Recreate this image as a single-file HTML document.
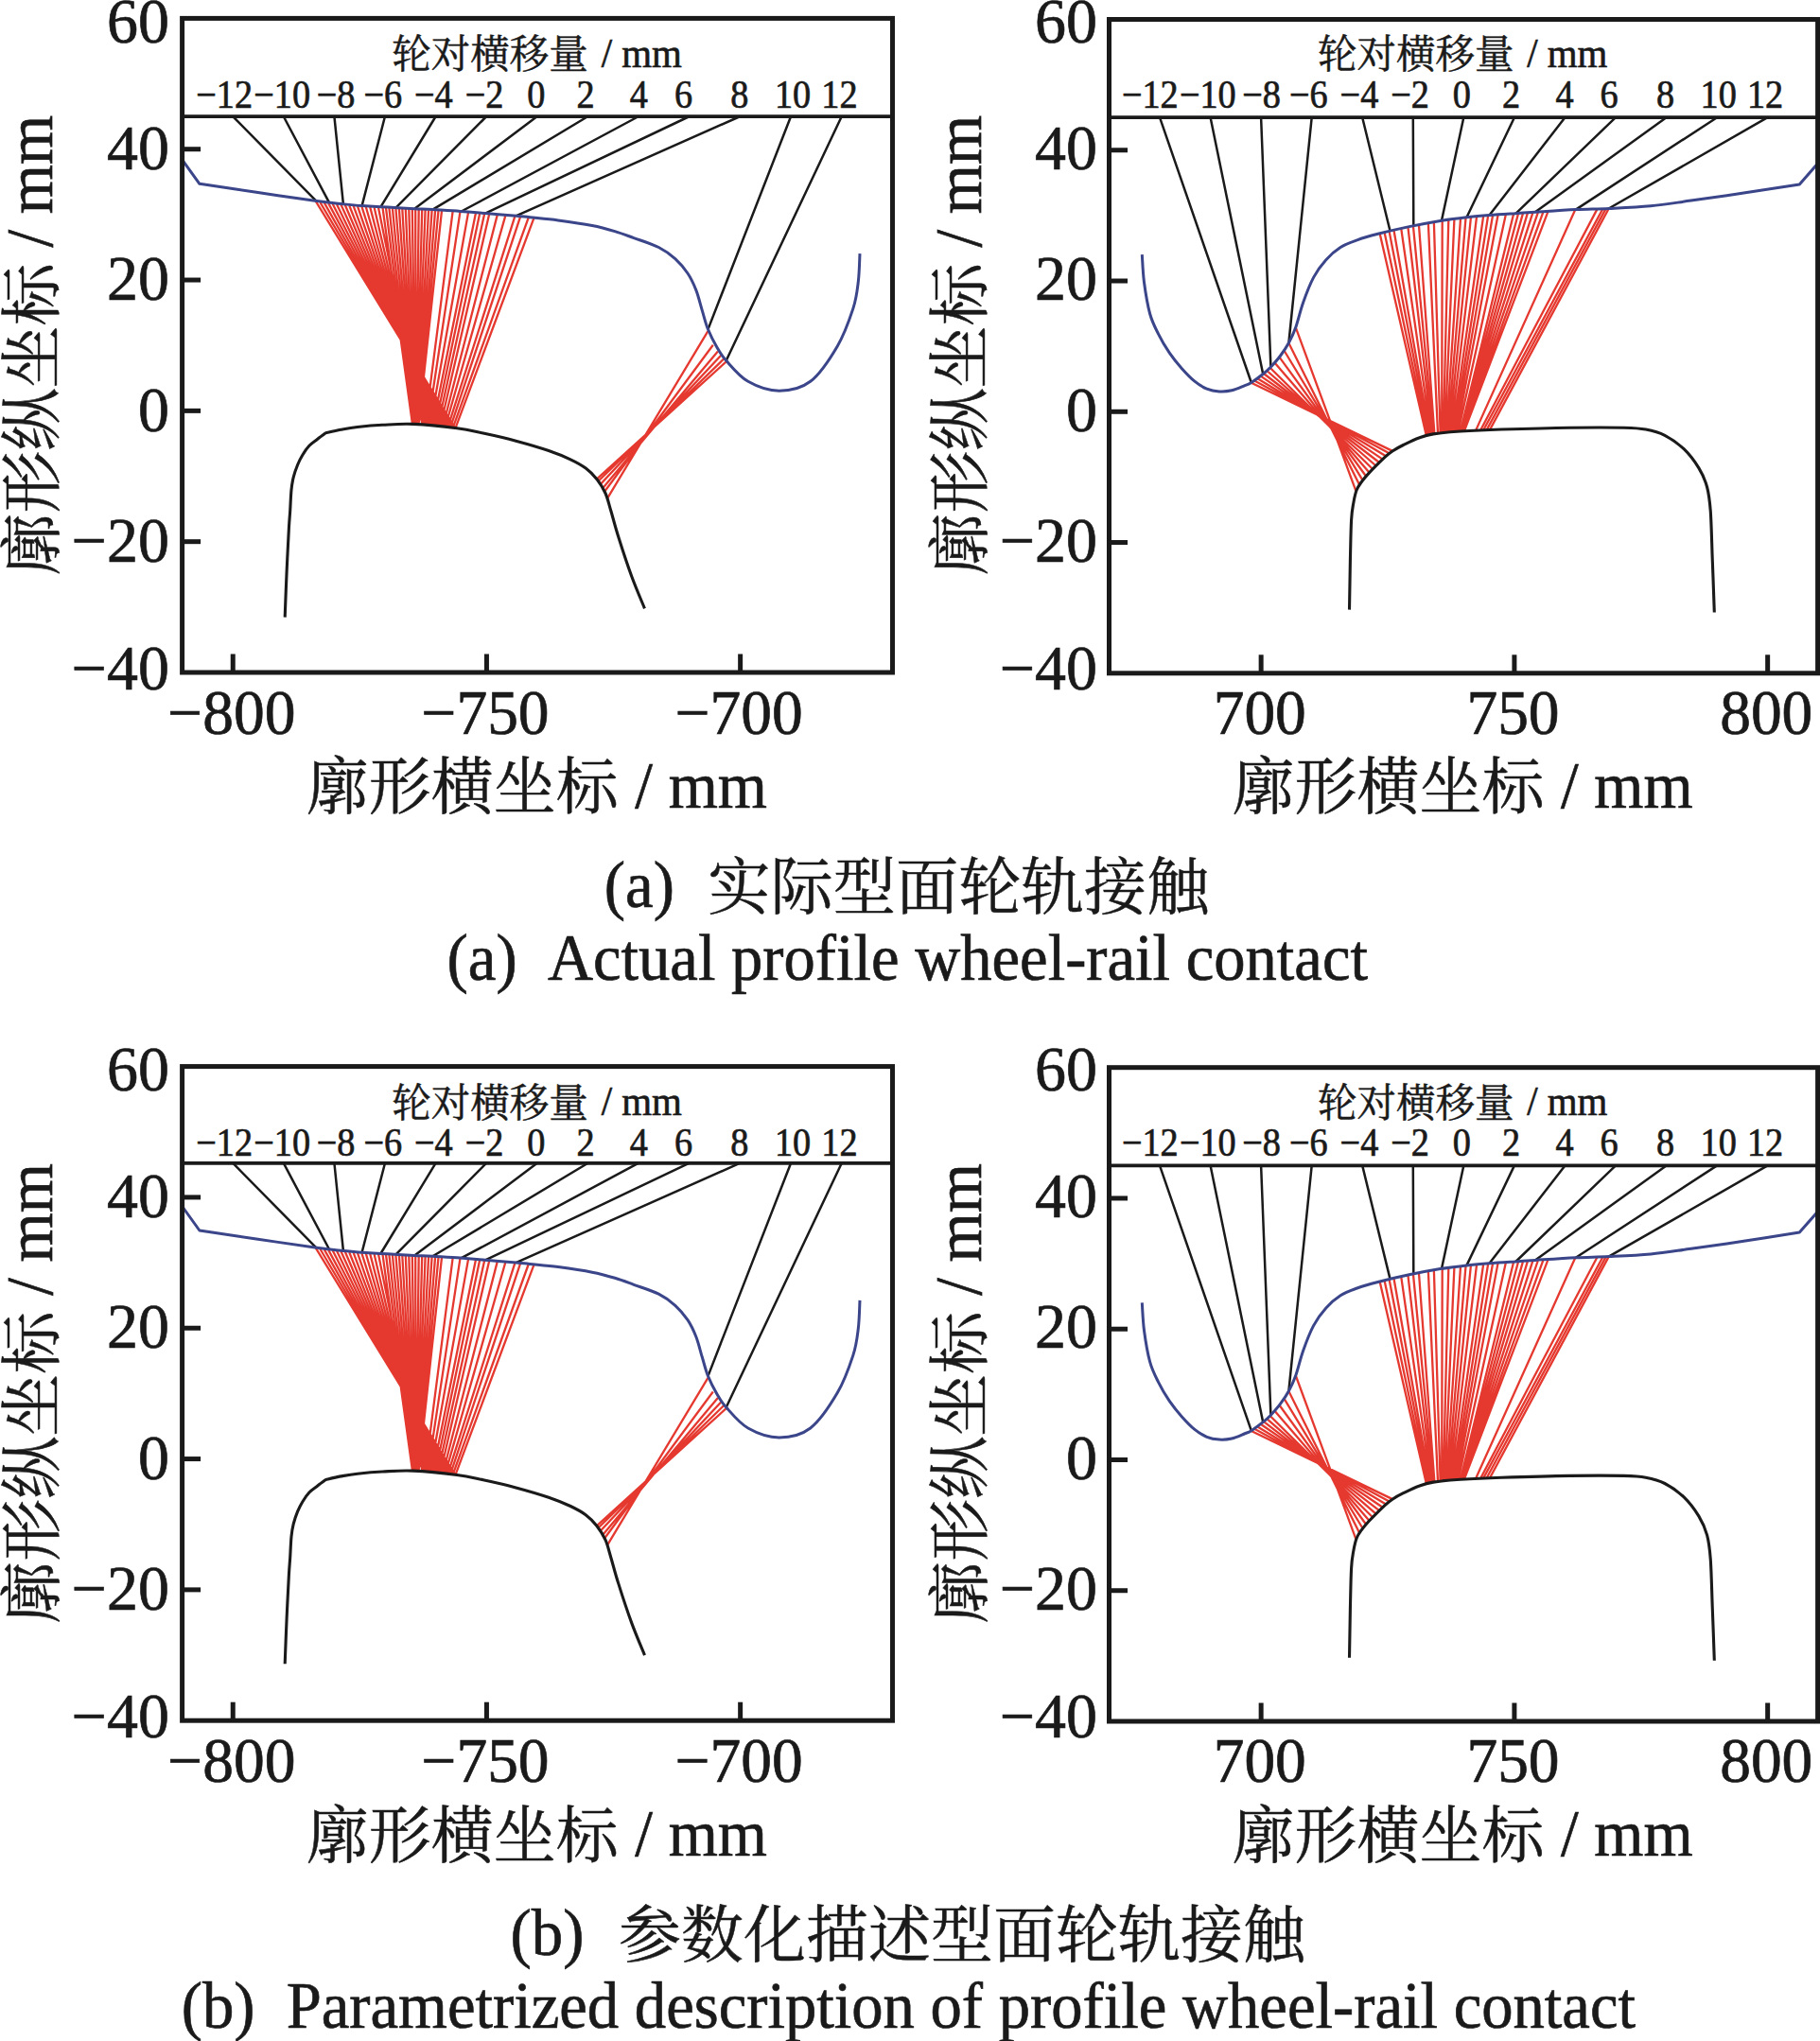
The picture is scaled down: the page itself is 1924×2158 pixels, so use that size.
<!DOCTYPE html>
<html lang="zh"><head><meta charset="utf-8"><title>wheel-rail contact</title>
<style>html,body{margin:0;padding:0;background:#fff}svg{display:block}text{font-family:'Liberation Serif', 'Noto Serif CJK SC', serif;fill:#1a1a1a}</style>
</head><body>
<svg width="1924" height="2158" viewBox="0 0 1924 2158">
<rect width="1924" height="2158" fill="#fff"/>
<g>
<g transform="translate(0,0)" fill="none" stroke-linecap="butt">
<path d="M334.0,213.2L481.0,452.5 M338.4,213.8L478.7,452.2 M342.8,214.4L476.4,452.0 M347.2,214.9L474.1,451.7 M351.6,215.4L471.8,451.4 M356.0,215.9L469.5,451.2 M360.4,216.3L467.2,450.9 M364.8,216.8L464.9,450.7 M369.2,217.3L462.6,450.4 M373.6,217.7L460.3,450.2 M378.0,218.1L458.0,450.0 M382.4,218.4L455.7,449.8 M386.8,218.7L453.4,449.6 M391.2,218.9L451.1,449.4 M395.6,219.2L448.8,449.2 M400.0,219.4L446.5,449.0 M404.5,219.6L436.0,448.4 M408.0,219.8L436.4,448.4 M411.4,220.0L436.7,448.4 M414.9,220.2L437.1,448.4 M418.4,220.4L437.4,448.4 M421.9,220.6L437.8,448.4 M425.3,220.8L438.2,448.5 M428.8,221.0L438.5,448.5 M432.3,221.2L438.9,448.5 M435.8,221.4L439.2,448.5 M439.2,221.6L439.6,448.5 M442.7,221.7L440.0,448.6 M446.2,221.9L440.3,448.6 M449.6,222.0L440.7,448.6 M453.1,222.2L441.1,448.6 M456.6,222.4L441.4,448.6 M460.1,222.5L441.8,448.7 M463.5,222.7L442.1,448.7 M467.0,222.9L442.5,448.7 M478.6,223.7L449.5,449.2 M486.4,224.2L452.2,449.5 M495.0,224.9L454.8,449.7 M502.9,225.5L457.5,449.9 M507.1,225.9L460.2,450.2 M512.1,226.3L462.8,450.5 M517.1,226.7L465.5,450.7 M525.7,227.4L468.2,451.0 M534.3,228.1L470.8,451.3 M544.3,228.9L473.5,451.6 M550.0,229.4L476.2,451.9 M558.6,230.3L478.8,452.3 M564.3,230.9L481.5,452.6 M748.4,350.1L642.4,526.4 M753.8,364.8L639.1,519.8 M758.9,371.4L636.9,516.5 M762.2,375.8L634.7,512.1 M765.5,379.1L632.5,508.8 M767.7,382.4L630.8,506.6" stroke="#e5382f" stroke-width="2.3"/>
<path d="M246.1,123.0L334.9,213.2 M299.7,123.0L348.1,214.3 M353.4,123.0L362.9,215.8 M407.0,123.0L382.6,217.6 M460.7,123.0L402.4,218.8 M514.3,123.0L418.5,219.7 M567.9,123.0L438.2,220.7 M621.6,123.0L457.4,221.6 M675.2,123.0L487.7,223.5 M728.9,123.0L513.0,225.6 M782.5,123.0L545.9,228.2 M836.1,123.0L748.4,348.4 M889.8,123.0L767.7,381.3" stroke="#1a1a1a" stroke-width="2.5"/>
<path d="M192.6,168.8 L210.9,194.3 L210.9,194.3C220.9,195.8 250.7,200.3 271.0,203.3C291.3,206.3 317.6,210.2 332.9,212.3C348.2,214.4 354.6,214.9 362.9,215.8C371.2,216.7 374.8,217.1 382.6,217.6C390.4,218.1 400.5,218.6 409.8,219.1C419.1,219.6 430.3,220.3 438.2,220.7C446.1,221.1 449.3,221.1 457.4,221.6C465.5,222.1 477.4,222.7 486.7,223.4C496.0,224.1 503.1,224.8 513.0,225.6C522.9,226.4 538.1,227.5 545.9,228.2C553.7,228.9 552.6,228.9 560.0,229.7C567.4,230.5 579.0,231.4 590.0,232.9C601.0,234.4 616.0,236.6 626.0,238.5C636.0,240.4 642.7,242.4 650.0,244.6C657.3,246.8 662.3,248.8 670.0,251.6C677.7,254.4 689.0,257.8 696.3,261.5C703.6,265.2 708.7,269.0 713.8,273.6C718.9,278.2 723.3,283.5 727.0,289.0C730.7,294.5 733.2,300.0 735.8,306.6C738.4,313.2 740.3,321.7 742.4,328.6C744.5,335.5 745.8,341.6 748.4,348.0C751.0,354.4 754.6,361.4 757.8,367.0C761.0,372.6 762.2,375.2 767.7,381.3C773.2,387.4 781.5,398.0 790.8,403.3C800.1,408.6 812.7,413.2 823.7,413.2C834.7,413.2 846.4,411.2 856.7,403.3C867.0,395.4 877.8,378.7 885.3,365.9C892.8,353.1 898.1,337.7 901.8,326.4C905.5,315.1 906.1,307.7 907.3,298.0C908.5,288.3 908.7,273.1 909.0,268.1" stroke="#3b4589" stroke-width="3.0" stroke-linejoin="round"/>
<path d="M301.2,652.6C301.5,644.6 302.4,620.3 303.1,604.6C303.8,588.9 304.8,569.3 305.4,558.5C306.0,547.7 306.3,546.8 306.7,540.0C307.1,533.2 307.4,523.8 308.0,517.9C308.6,512.0 309.1,509.1 310.2,504.7C311.3,500.3 313.0,495.4 314.6,491.5C316.2,487.6 317.8,484.4 319.9,481.0C321.9,477.6 324.3,474.1 326.9,471.3C329.5,468.5 332.8,466.6 335.7,464.3C338.6,462.0 343.0,458.8 344.5,457.7L344.5,457.7C347.1,457.1 354.7,455.2 360.3,454.2C365.9,453.2 370.6,452.3 377.9,451.5C385.2,450.7 394.5,449.8 404.3,449.3C414.1,448.8 423.8,447.8 436.9,448.4C450.0,449.0 470.8,451.2 483.1,452.8C495.4,454.4 500.4,455.9 510.8,458.1C521.2,460.3 533.9,463.1 545.4,466.2C556.9,469.3 570.4,473.2 580.0,476.5C589.6,479.8 596.6,482.7 603.1,485.8C609.6,488.9 614.6,491.6 619.2,495.0C623.8,498.4 627.3,502.1 630.8,506.5C634.3,510.9 637.5,515.9 640.0,521.5C642.5,527.1 643.5,532.3 645.8,540.0C648.1,547.7 650.1,556.2 653.8,567.7C657.4,579.2 663.1,596.6 667.7,609.2C672.3,621.8 679.2,637.7 681.5,643.4" stroke="#1a1a1a" stroke-width="3.1" stroke-linejoin="round"/>
</g>
<rect x="192.60" y="19.40" width="750.90" height="691.60" fill="none" stroke="#1a1a1a" stroke-width="5"/>
<line x1="192.60" y1="123.14" x2="943.50" y2="123.14" stroke="#1a1a1a" stroke-width="3.8"/>
<line x1="192.60" y1="157.72" x2="212.10" y2="157.72" stroke="#1a1a1a" stroke-width="5"/>
<line x1="192.60" y1="296.04" x2="212.10" y2="296.04" stroke="#1a1a1a" stroke-width="5"/>
<line x1="192.60" y1="434.36" x2="212.10" y2="434.36" stroke="#1a1a1a" stroke-width="5"/>
<line x1="192.60" y1="572.68" x2="212.10" y2="572.68" stroke="#1a1a1a" stroke-width="5"/>
<text transform="translate(179.00,45.20) scale(0.985,1)" font-size="67.0" text-anchor="end" stroke="#1a1a1a" stroke-width="0.7" >60</text>
<text transform="translate(179.00,178.92) scale(0.985,1)" font-size="67.0" text-anchor="end" stroke="#1a1a1a" stroke-width="0.7" >40</text>
<text transform="translate(179.00,317.24) scale(0.985,1)" font-size="67.0" text-anchor="end" stroke="#1a1a1a" stroke-width="0.7" >20</text>
<text transform="translate(179.00,455.56) scale(0.985,1)" font-size="67.0" text-anchor="end" stroke="#1a1a1a" stroke-width="0.7" >0</text>
<text transform="translate(179.00,593.88) scale(0.985,1)" font-size="67.0" text-anchor="end" stroke="#1a1a1a" stroke-width="0.7" >−20</text>
<text transform="translate(179.00,728.90) scale(0.985,1)" font-size="67.0" text-anchor="end" stroke="#1a1a1a" stroke-width="0.7" >−40</text>
<line x1="246.24" y1="711.00" x2="246.24" y2="691.50" stroke="#1a1a1a" stroke-width="5"/>
<text transform="translate(244.84,776.00) scale(0.977,1)" font-size="67.0" text-anchor="middle" stroke="#1a1a1a" stroke-width="0.7" >−800</text>
<line x1="514.44" y1="711.00" x2="514.44" y2="691.50" stroke="#1a1a1a" stroke-width="5"/>
<text transform="translate(513.04,776.00) scale(0.977,1)" font-size="67.0" text-anchor="middle" stroke="#1a1a1a" stroke-width="0.7" >−750</text>
<line x1="782.64" y1="711.00" x2="782.64" y2="691.50" stroke="#1a1a1a" stroke-width="5"/>
<text transform="translate(781.24,776.00) scale(0.977,1)" font-size="67.0" text-anchor="middle" stroke="#1a1a1a" stroke-width="0.7" >−700</text>
<text transform="translate(323.80,855.30) scale(1.0,1)" font-size="66" text-anchor="start" stroke="#1a1a1a" stroke-width="0.5" >廓形横坐标</text>
<text transform="translate(811.00,853.50) scale(0.958,1)" font-size="70" text-anchor="end" stroke="#1a1a1a" stroke-width="0.7" xml:space="preserve" > / mm</text>
<text transform="translate(56.80,608.50) rotate(-90) scale(1.0,1)" font-size="66" text-anchor="start" stroke="#1a1a1a" stroke-width="0.5" >廓形纵坐标</text>
<text transform="translate(55.40,121.90) rotate(-90) scale(0.958,1)" font-size="70" text-anchor="end" stroke="#1a1a1a" stroke-width="0.7" xml:space="preserve" > / mm</text>
<text transform="translate(414.30,72.30) scale(1.0,1)" font-size="41.5" text-anchor="start" stroke="#1a1a1a" stroke-width="0.5" >轮对横移量</text>
<text transform="translate(720.80,71.00) scale(0.94,1)" font-size="43.5" text-anchor="end" stroke="#1a1a1a" stroke-width="0.7" xml:space="preserve" > / mm</text>
<text transform="translate(207.30,113.70) scale(0.915,1)" font-size="41.8" text-anchor="start" stroke="#1a1a1a" stroke-width="0.7" xml:space="preserve" >−12</text>
<text transform="translate(268.30,113.70) scale(0.915,1)" font-size="41.8" text-anchor="start" stroke="#1a1a1a" stroke-width="0.7" xml:space="preserve" >−10</text>
<text transform="translate(334.70,113.70) scale(0.915,1)" font-size="41.8" text-anchor="start" stroke="#1a1a1a" stroke-width="0.7" xml:space="preserve" >−8</text>
<text transform="translate(384.40,113.70) scale(0.915,1)" font-size="41.8" text-anchor="start" stroke="#1a1a1a" stroke-width="0.7" xml:space="preserve" >−6</text>
<text transform="translate(438.00,113.70) scale(0.915,1)" font-size="41.8" text-anchor="start" stroke="#1a1a1a" stroke-width="0.7" xml:space="preserve" >−4</text>
<text transform="translate(491.70,113.70) scale(0.915,1)" font-size="41.8" text-anchor="start" stroke="#1a1a1a" stroke-width="0.7" xml:space="preserve" >−2</text>
<text transform="translate(557.20,113.70) scale(0.915,1)" font-size="41.8" text-anchor="start" stroke="#1a1a1a" stroke-width="0.7" xml:space="preserve" >0</text>
<text transform="translate(609.40,113.70) scale(0.915,1)" font-size="41.8" text-anchor="start" stroke="#1a1a1a" stroke-width="0.7" xml:space="preserve" >2</text>
<text transform="translate(665.80,113.70) scale(0.915,1)" font-size="41.8" text-anchor="start" stroke="#1a1a1a" stroke-width="0.7" xml:space="preserve" >4</text>
<text transform="translate(713.00,113.70) scale(0.915,1)" font-size="41.8" text-anchor="start" stroke="#1a1a1a" stroke-width="0.7" xml:space="preserve" >6</text>
<text transform="translate(772.30,113.70) scale(0.915,1)" font-size="41.8" text-anchor="start" stroke="#1a1a1a" stroke-width="0.7" xml:space="preserve" >8</text>
<text transform="translate(819.00,113.70) scale(0.915,1)" font-size="41.8" text-anchor="start" stroke="#1a1a1a" stroke-width="0.7" xml:space="preserve" >10</text>
<text transform="translate(868.30,113.70) scale(0.915,1)" font-size="41.8" text-anchor="start" stroke="#1a1a1a" stroke-width="0.7" xml:space="preserve" >12</text>
</g>
<g>
<g transform="translate(0,0)" fill="none" stroke-linecap="butt">
<path d="M1458.8,247.6L1507.8,460.4 M1463.7,246.3L1509.0,460.1 M1468.7,245.1L1510.3,459.8 M1473.6,244.0L1511.5,459.6 M1481.3,242.2L1512.7,459.3 M1488.5,240.7L1513.9,459.1 M1494.0,239.5L1515.2,458.9 M1500.0,238.3L1516.4,458.7 M1509.9,236.4L1520.0,458.2 M1515.9,235.3L1522.6,457.9 M1524.7,233.9L1524.2,457.7 M1531.3,232.9L1525.8,457.5 M1537.4,232.1L1527.4,457.4 M1544.0,231.2L1529.0,457.2 M1549.5,230.6L1530.6,457.1 M1554.9,230.0L1532.2,456.9 M1561.0,229.4L1533.8,456.8 M1568.1,228.8L1535.4,456.6 M1573.1,228.4L1537.0,456.5 M1578.0,228.0L1538.5,456.4 M1583.5,227.7L1540.0,456.3 M1591.8,227.1L1541.6,456.2 M1600.0,226.6L1543.9,456.0 M1604.9,226.3L1544.5,456.0 M1609.9,225.9L1545.1,455.9 M1614.8,225.6L1545.7,455.9 M1620.3,225.2L1546.2,455.9 M1625.8,224.8L1546.8,455.8 M1631.3,224.4L1547.4,455.8 M1636.3,224.1L1548.0,455.7 M1665.0,222.3L1560.1,455.1 M1688.2,221.6L1565.2,454.8 M1694.0,221.5L1568.2,454.7 M1697.2,221.4L1571.6,454.6 M1700.3,221.2L1575.0,454.4 M1322.8,404.8L1472.1,476.9 M1326.1,402.6L1468.6,479.3 M1329.4,400.3L1465.1,482.3 M1332.7,397.6L1461.6,485.6 M1336.0,395.0L1458.1,489.0 M1339.3,392.0L1454.6,492.5 M1342.6,388.8L1451.1,496.0 M1347.5,383.5L1447.6,499.7 M1352.5,377.6L1444.1,503.5 M1357.4,370.5L1440.6,507.8 M1362.4,362.8L1437.1,512.6 M1369.8,346.3L1433.6,519.7" stroke="#e5382f" stroke-width="2.3"/>
<path d="M1226.0,124.2L1322.8,404.5 M1279.6,124.2L1335.2,395.5 M1333.1,124.2L1343.4,388.0 M1386.7,124.2L1362.4,362.5 M1440.2,124.2L1469.3,243.2 M1493.8,124.2L1494.3,238.2 M1547.3,124.2L1524.0,233.2 M1600.9,124.2L1550.5,229.7 M1654.4,124.2L1574.5,227.5 M1708.0,124.2L1602.3,225.8 M1761.5,124.2L1622.9,224.3 M1815.1,124.2L1665.8,221.6 M1868.6,124.2L1700.6,220.5" stroke="#1a1a1a" stroke-width="2.5"/>
<path d="M1207.3,269.2C1207.7,274.1 1208.1,288.0 1209.5,298.5C1210.9,309.0 1213.2,322.9 1215.7,332.0C1218.2,341.1 1221.3,346.5 1224.7,353.4C1228.1,360.3 1232.2,367.1 1236.3,373.2C1240.4,379.2 1245.0,384.8 1249.4,389.7C1253.8,394.6 1258.2,399.3 1262.6,402.9C1267.0,406.5 1271.4,409.3 1275.8,411.1C1280.2,412.9 1284.6,413.6 1289.0,413.9C1293.4,414.2 1297.8,413.8 1302.2,412.8C1306.6,411.8 1312.0,409.2 1315.4,407.8C1318.8,406.4 1319.5,406.6 1322.8,404.5C1326.1,402.4 1331.8,398.2 1335.2,395.5C1338.6,392.8 1340.4,391.2 1343.4,388.0C1346.4,384.8 1350.1,380.8 1353.3,376.5C1356.5,372.2 1359.7,367.6 1362.4,362.5C1365.2,357.4 1367.3,353.1 1369.8,346.0C1372.3,338.9 1374.5,328.8 1377.6,320.0C1380.7,311.2 1384.6,300.9 1388.6,293.4C1392.6,285.8 1397.0,280.0 1401.8,274.7C1406.5,269.4 1411.6,265.0 1417.1,261.5C1422.6,258.0 1428.1,256.2 1434.7,253.8C1441.3,251.4 1447.5,249.7 1456.7,247.3C1465.9,244.9 1478.7,241.9 1489.7,239.6C1500.7,237.3 1512.5,235.1 1522.6,233.4C1532.7,231.8 1541.8,230.7 1550.4,229.7C1559.1,228.7 1565.9,228.2 1574.5,227.5C1583.1,226.8 1593.9,226.2 1602.0,225.7C1610.1,225.1 1612.3,224.9 1622.9,224.2C1633.5,223.5 1652.8,222.1 1665.8,221.5C1678.8,220.9 1687.7,221.0 1700.9,220.4C1714.1,219.8 1730.5,219.2 1745.0,217.8C1759.5,216.4 1771.0,214.4 1787.7,212.1C1804.4,209.8 1825.9,206.7 1845.0,203.8C1864.1,200.9 1892.8,196.4 1902.3,194.9 L1924.5,169.6" stroke="#3b4589" stroke-width="3.0" stroke-linejoin="round"/>
<path d="M1426.5,644.6C1426.7,636.0 1427.1,608.6 1427.4,592.8C1427.8,577.0 1428.0,559.8 1428.6,549.6C1429.2,539.5 1429.9,537.1 1430.8,531.9C1431.7,526.7 1432.7,521.9 1434.1,518.3C1435.5,514.6 1436.8,513.0 1439.0,510.0C1441.2,507.0 1443.1,504.5 1447.2,500.1C1451.3,495.7 1459.6,487.5 1463.7,483.6C1467.8,479.8 1468.7,479.2 1472.0,477.0C1475.3,474.8 1478.8,472.8 1483.5,470.5C1488.2,468.2 1494.7,464.9 1500.0,463.0C1505.3,461.1 1507.9,460.1 1515.2,458.9C1522.5,457.7 1532.0,456.8 1544.0,456.0C1556.0,455.2 1568.0,454.6 1587.2,454.0C1606.4,453.4 1637.5,452.5 1659.1,452.2C1680.7,451.9 1703.2,451.9 1716.7,452.2C1730.2,452.5 1732.6,452.6 1739.8,454.0C1747.0,455.4 1753.2,456.9 1759.9,460.3C1766.6,463.8 1774.1,468.9 1780.1,474.7C1786.1,480.5 1791.8,488.2 1795.9,494.9C1800.0,501.6 1802.5,507.3 1804.6,515.0C1806.7,522.7 1807.3,527.9 1808.3,540.9C1809.2,553.9 1809.6,575.0 1810.3,592.8C1811.0,610.6 1812.0,638.4 1812.3,647.5" stroke="#1a1a1a" stroke-width="3.1" stroke-linejoin="round"/>
</g>
<rect x="1172.50" y="20.50" width="749.10" height="691.30" fill="none" stroke="#1a1a1a" stroke-width="5"/>
<line x1="1172.50" y1="124.19" x2="1921.60" y2="124.19" stroke="#1a1a1a" stroke-width="3.8"/>
<line x1="1172.50" y1="158.76" x2="1192.00" y2="158.76" stroke="#1a1a1a" stroke-width="5"/>
<line x1="1172.50" y1="297.02" x2="1192.00" y2="297.02" stroke="#1a1a1a" stroke-width="5"/>
<line x1="1172.50" y1="435.28" x2="1192.00" y2="435.28" stroke="#1a1a1a" stroke-width="5"/>
<line x1="1172.50" y1="573.54" x2="1192.00" y2="573.54" stroke="#1a1a1a" stroke-width="5"/>
<text transform="translate(1160.10,45.20) scale(0.985,1)" font-size="67.0" text-anchor="end" stroke="#1a1a1a" stroke-width="0.7" >60</text>
<text transform="translate(1160.10,178.92) scale(0.985,1)" font-size="67.0" text-anchor="end" stroke="#1a1a1a" stroke-width="0.7" >40</text>
<text transform="translate(1160.10,317.24) scale(0.985,1)" font-size="67.0" text-anchor="end" stroke="#1a1a1a" stroke-width="0.7" >20</text>
<text transform="translate(1160.10,455.56) scale(0.985,1)" font-size="67.0" text-anchor="end" stroke="#1a1a1a" stroke-width="0.7" >0</text>
<text transform="translate(1160.10,593.88) scale(0.985,1)" font-size="67.0" text-anchor="end" stroke="#1a1a1a" stroke-width="0.7" >−20</text>
<text transform="translate(1160.10,728.90) scale(0.985,1)" font-size="67.0" text-anchor="end" stroke="#1a1a1a" stroke-width="0.7" >−40</text>
<line x1="1333.15" y1="711.80" x2="1333.15" y2="692.30" stroke="#1a1a1a" stroke-width="5"/>
<text transform="translate(1331.75,776.00) scale(0.977,1)" font-size="67.0" text-anchor="middle" stroke="#1a1a1a" stroke-width="0.7" >700</text>
<line x1="1600.90" y1="711.80" x2="1600.90" y2="692.30" stroke="#1a1a1a" stroke-width="5"/>
<text transform="translate(1599.50,776.00) scale(0.977,1)" font-size="67.0" text-anchor="middle" stroke="#1a1a1a" stroke-width="0.7" >750</text>
<line x1="1868.65" y1="711.80" x2="1868.65" y2="692.30" stroke="#1a1a1a" stroke-width="5"/>
<text transform="translate(1867.25,776.00) scale(0.977,1)" font-size="67.0" text-anchor="middle" stroke="#1a1a1a" stroke-width="0.7" >800</text>
<text transform="translate(1302.40,855.30) scale(1.0,1)" font-size="66" text-anchor="start" stroke="#1a1a1a" stroke-width="0.5" >廓形横坐标</text>
<text transform="translate(1789.60,853.50) scale(0.958,1)" font-size="70" text-anchor="end" stroke="#1a1a1a" stroke-width="0.7" xml:space="preserve" > / mm</text>
<text transform="translate(1038.20,608.50) rotate(-90) scale(1.0,1)" font-size="66" text-anchor="start" stroke="#1a1a1a" stroke-width="0.5" >廓形纵坐标</text>
<text transform="translate(1036.80,121.90) rotate(-90) scale(0.958,1)" font-size="70" text-anchor="end" stroke="#1a1a1a" stroke-width="0.7" xml:space="preserve" > / mm</text>
<text transform="translate(1392.90,72.30) scale(1.0,1)" font-size="41.5" text-anchor="start" stroke="#1a1a1a" stroke-width="0.5" >轮对横移量</text>
<text transform="translate(1699.40,71.00) scale(0.94,1)" font-size="43.5" text-anchor="end" stroke="#1a1a1a" stroke-width="0.7" xml:space="preserve" > / mm</text>
<text transform="translate(1185.90,113.70) scale(0.915,1)" font-size="41.8" text-anchor="start" stroke="#1a1a1a" stroke-width="0.7" xml:space="preserve" >−12</text>
<text transform="translate(1246.90,113.70) scale(0.915,1)" font-size="41.8" text-anchor="start" stroke="#1a1a1a" stroke-width="0.7" xml:space="preserve" >−10</text>
<text transform="translate(1313.30,113.70) scale(0.915,1)" font-size="41.8" text-anchor="start" stroke="#1a1a1a" stroke-width="0.7" xml:space="preserve" >−8</text>
<text transform="translate(1363.00,113.70) scale(0.915,1)" font-size="41.8" text-anchor="start" stroke="#1a1a1a" stroke-width="0.7" xml:space="preserve" >−6</text>
<text transform="translate(1416.60,113.70) scale(0.915,1)" font-size="41.8" text-anchor="start" stroke="#1a1a1a" stroke-width="0.7" xml:space="preserve" >−4</text>
<text transform="translate(1470.30,113.70) scale(0.915,1)" font-size="41.8" text-anchor="start" stroke="#1a1a1a" stroke-width="0.7" xml:space="preserve" >−2</text>
<text transform="translate(1535.80,113.70) scale(0.915,1)" font-size="41.8" text-anchor="start" stroke="#1a1a1a" stroke-width="0.7" xml:space="preserve" >0</text>
<text transform="translate(1588.00,113.70) scale(0.915,1)" font-size="41.8" text-anchor="start" stroke="#1a1a1a" stroke-width="0.7" xml:space="preserve" >2</text>
<text transform="translate(1644.40,113.70) scale(0.915,1)" font-size="41.8" text-anchor="start" stroke="#1a1a1a" stroke-width="0.7" xml:space="preserve" >4</text>
<text transform="translate(1691.60,113.70) scale(0.915,1)" font-size="41.8" text-anchor="start" stroke="#1a1a1a" stroke-width="0.7" xml:space="preserve" >6</text>
<text transform="translate(1750.90,113.70) scale(0.915,1)" font-size="41.8" text-anchor="start" stroke="#1a1a1a" stroke-width="0.7" xml:space="preserve" >8</text>
<text transform="translate(1797.60,113.70) scale(0.915,1)" font-size="41.8" text-anchor="start" stroke="#1a1a1a" stroke-width="0.7" xml:space="preserve" >10</text>
<text transform="translate(1846.90,113.70) scale(0.915,1)" font-size="41.8" text-anchor="start" stroke="#1a1a1a" stroke-width="0.7" xml:space="preserve" >12</text>
</g>
<g>
<g transform="translate(0,1106.7)" fill="none" stroke-linecap="butt">
<path d="M334.0,213.2L481.0,452.5 M338.4,213.8L478.7,452.2 M342.8,214.4L476.4,452.0 M347.2,214.9L474.1,451.7 M351.6,215.4L471.8,451.4 M356.0,215.9L469.5,451.2 M360.4,216.3L467.2,450.9 M364.8,216.8L464.9,450.7 M369.2,217.3L462.6,450.4 M373.6,217.7L460.3,450.2 M378.0,218.1L458.0,450.0 M382.4,218.4L455.7,449.8 M386.8,218.7L453.4,449.6 M391.2,218.9L451.1,449.4 M395.6,219.2L448.8,449.2 M400.0,219.4L446.5,449.0 M404.5,219.6L436.0,448.4 M408.0,219.8L436.4,448.4 M411.4,220.0L436.7,448.4 M414.9,220.2L437.1,448.4 M418.4,220.4L437.4,448.4 M421.9,220.6L437.8,448.4 M425.3,220.8L438.2,448.5 M428.8,221.0L438.5,448.5 M432.3,221.2L438.9,448.5 M435.8,221.4L439.2,448.5 M439.2,221.6L439.6,448.5 M442.7,221.7L440.0,448.6 M446.2,221.9L440.3,448.6 M449.6,222.0L440.7,448.6 M453.1,222.2L441.1,448.6 M456.6,222.4L441.4,448.6 M460.1,222.5L441.8,448.7 M463.5,222.7L442.1,448.7 M467.0,222.9L442.5,448.7 M478.6,223.7L449.5,449.2 M486.4,224.2L452.2,449.5 M495.0,224.9L454.8,449.7 M502.9,225.5L457.5,449.9 M507.1,225.9L460.2,450.2 M512.1,226.3L462.8,450.5 M517.1,226.7L465.5,450.7 M525.7,227.4L468.2,451.0 M534.3,228.1L470.8,451.3 M544.3,228.9L473.5,451.6 M550.0,229.4L476.2,451.9 M558.6,230.3L478.8,452.3 M564.3,230.9L481.5,452.6 M748.4,350.1L642.4,526.4 M753.8,364.8L639.1,519.8 M758.9,371.4L636.9,516.5 M762.2,375.8L634.7,512.1 M765.5,379.1L632.5,508.8 M767.7,382.4L630.8,506.6" stroke="#e5382f" stroke-width="2.3"/>
<path d="M246.1,123.0L334.9,213.2 M299.7,123.0L348.1,214.3 M353.4,123.0L362.9,215.8 M407.0,123.0L382.6,217.6 M460.7,123.0L402.4,218.8 M514.3,123.0L418.5,219.7 M567.9,123.0L438.2,220.7 M621.6,123.0L457.4,221.6 M675.2,123.0L487.7,223.5 M728.9,123.0L513.0,225.6 M782.5,123.0L545.9,228.2 M836.1,123.0L748.4,348.4 M889.8,123.0L767.7,381.3" stroke="#1a1a1a" stroke-width="2.5"/>
<path d="M192.6,168.8 L210.9,194.3 L210.9,194.3C220.9,195.8 250.7,200.3 271.0,203.3C291.3,206.3 317.6,210.2 332.9,212.3C348.2,214.4 354.6,214.9 362.9,215.8C371.2,216.7 374.8,217.1 382.6,217.6C390.4,218.1 400.5,218.6 409.8,219.1C419.1,219.6 430.3,220.3 438.2,220.7C446.1,221.1 449.3,221.1 457.4,221.6C465.5,222.1 477.4,222.7 486.7,223.4C496.0,224.1 503.1,224.8 513.0,225.6C522.9,226.4 538.1,227.5 545.9,228.2C553.7,228.9 552.6,228.9 560.0,229.7C567.4,230.5 579.0,231.4 590.0,232.9C601.0,234.4 616.0,236.6 626.0,238.5C636.0,240.4 642.7,242.4 650.0,244.6C657.3,246.8 662.3,248.8 670.0,251.6C677.7,254.4 689.0,257.8 696.3,261.5C703.6,265.2 708.7,269.0 713.8,273.6C718.9,278.2 723.3,283.5 727.0,289.0C730.7,294.5 733.2,300.0 735.8,306.6C738.4,313.2 740.3,321.7 742.4,328.6C744.5,335.5 745.8,341.6 748.4,348.0C751.0,354.4 754.6,361.4 757.8,367.0C761.0,372.6 762.2,375.2 767.7,381.3C773.2,387.4 781.5,398.0 790.8,403.3C800.1,408.6 812.7,413.2 823.7,413.2C834.7,413.2 846.4,411.2 856.7,403.3C867.0,395.4 877.8,378.7 885.3,365.9C892.8,353.1 898.1,337.7 901.8,326.4C905.5,315.1 906.1,307.7 907.3,298.0C908.5,288.3 908.7,273.1 909.0,268.1" stroke="#3b4589" stroke-width="3.0" stroke-linejoin="round"/>
<path d="M301.2,652.6C301.5,644.6 302.4,620.3 303.1,604.6C303.8,588.9 304.8,569.3 305.4,558.5C306.0,547.7 306.3,546.8 306.7,540.0C307.1,533.2 307.4,523.8 308.0,517.9C308.6,512.0 309.1,509.1 310.2,504.7C311.3,500.3 313.0,495.4 314.6,491.5C316.2,487.6 317.8,484.4 319.9,481.0C321.9,477.6 324.3,474.1 326.9,471.3C329.5,468.5 332.8,466.6 335.7,464.3C338.6,462.0 343.0,458.8 344.5,457.7L344.5,457.7C347.1,457.1 354.7,455.2 360.3,454.2C365.9,453.2 370.6,452.3 377.9,451.5C385.2,450.7 394.5,449.8 404.3,449.3C414.1,448.8 423.8,447.8 436.9,448.4C450.0,449.0 470.8,451.2 483.1,452.8C495.4,454.4 500.4,455.9 510.8,458.1C521.2,460.3 533.9,463.1 545.4,466.2C556.9,469.3 570.4,473.2 580.0,476.5C589.6,479.8 596.6,482.7 603.1,485.8C609.6,488.9 614.6,491.6 619.2,495.0C623.8,498.4 627.3,502.1 630.8,506.5C634.3,510.9 637.5,515.9 640.0,521.5C642.5,527.1 643.5,532.3 645.8,540.0C648.1,547.7 650.1,556.2 653.8,567.7C657.4,579.2 663.1,596.6 667.7,609.2C672.3,621.8 679.2,637.7 681.5,643.4" stroke="#1a1a1a" stroke-width="3.1" stroke-linejoin="round"/>
</g>
<rect x="192.60" y="1127.60" width="750.90" height="691.60" fill="none" stroke="#1a1a1a" stroke-width="5"/>
<line x1="192.60" y1="1229.84" x2="943.50" y2="1229.84" stroke="#1a1a1a" stroke-width="3.8"/>
<line x1="192.60" y1="1265.92" x2="212.10" y2="1265.92" stroke="#1a1a1a" stroke-width="5"/>
<line x1="192.60" y1="1404.24" x2="212.10" y2="1404.24" stroke="#1a1a1a" stroke-width="5"/>
<line x1="192.60" y1="1542.56" x2="212.10" y2="1542.56" stroke="#1a1a1a" stroke-width="5"/>
<line x1="192.60" y1="1680.88" x2="212.10" y2="1680.88" stroke="#1a1a1a" stroke-width="5"/>
<text transform="translate(179.00,1153.40) scale(0.985,1)" font-size="67.0" text-anchor="end" stroke="#1a1a1a" stroke-width="0.7" >60</text>
<text transform="translate(179.00,1287.12) scale(0.985,1)" font-size="67.0" text-anchor="end" stroke="#1a1a1a" stroke-width="0.7" >40</text>
<text transform="translate(179.00,1425.44) scale(0.985,1)" font-size="67.0" text-anchor="end" stroke="#1a1a1a" stroke-width="0.7" >20</text>
<text transform="translate(179.00,1563.76) scale(0.985,1)" font-size="67.0" text-anchor="end" stroke="#1a1a1a" stroke-width="0.7" >0</text>
<text transform="translate(179.00,1702.08) scale(0.985,1)" font-size="67.0" text-anchor="end" stroke="#1a1a1a" stroke-width="0.7" >−20</text>
<text transform="translate(179.00,1837.10) scale(0.985,1)" font-size="67.0" text-anchor="end" stroke="#1a1a1a" stroke-width="0.7" >−40</text>
<line x1="246.24" y1="1819.20" x2="246.24" y2="1799.70" stroke="#1a1a1a" stroke-width="5"/>
<text transform="translate(244.84,1884.20) scale(0.977,1)" font-size="67.0" text-anchor="middle" stroke="#1a1a1a" stroke-width="0.7" >−800</text>
<line x1="514.44" y1="1819.20" x2="514.44" y2="1799.70" stroke="#1a1a1a" stroke-width="5"/>
<text transform="translate(513.04,1884.20) scale(0.977,1)" font-size="67.0" text-anchor="middle" stroke="#1a1a1a" stroke-width="0.7" >−750</text>
<line x1="782.64" y1="1819.20" x2="782.64" y2="1799.70" stroke="#1a1a1a" stroke-width="5"/>
<text transform="translate(781.24,1884.20) scale(0.977,1)" font-size="67.0" text-anchor="middle" stroke="#1a1a1a" stroke-width="0.7" >−700</text>
<text transform="translate(323.80,1963.50) scale(1.0,1)" font-size="66" text-anchor="start" stroke="#1a1a1a" stroke-width="0.5" >廓形横坐标</text>
<text transform="translate(811.00,1961.70) scale(0.958,1)" font-size="70" text-anchor="end" stroke="#1a1a1a" stroke-width="0.7" xml:space="preserve" > / mm</text>
<text transform="translate(56.80,1716.70) rotate(-90) scale(1.0,1)" font-size="66" text-anchor="start" stroke="#1a1a1a" stroke-width="0.5" >廓形纵坐标</text>
<text transform="translate(55.40,1230.10) rotate(-90) scale(0.958,1)" font-size="70" text-anchor="end" stroke="#1a1a1a" stroke-width="0.7" xml:space="preserve" > / mm</text>
<text transform="translate(414.30,1180.50) scale(1.0,1)" font-size="41.5" text-anchor="start" stroke="#1a1a1a" stroke-width="0.5" >轮对横移量</text>
<text transform="translate(720.80,1179.20) scale(0.94,1)" font-size="43.5" text-anchor="end" stroke="#1a1a1a" stroke-width="0.7" xml:space="preserve" > / mm</text>
<text transform="translate(207.30,1221.90) scale(0.915,1)" font-size="41.8" text-anchor="start" stroke="#1a1a1a" stroke-width="0.7" xml:space="preserve" >−12</text>
<text transform="translate(268.30,1221.90) scale(0.915,1)" font-size="41.8" text-anchor="start" stroke="#1a1a1a" stroke-width="0.7" xml:space="preserve" >−10</text>
<text transform="translate(334.70,1221.90) scale(0.915,1)" font-size="41.8" text-anchor="start" stroke="#1a1a1a" stroke-width="0.7" xml:space="preserve" >−8</text>
<text transform="translate(384.40,1221.90) scale(0.915,1)" font-size="41.8" text-anchor="start" stroke="#1a1a1a" stroke-width="0.7" xml:space="preserve" >−6</text>
<text transform="translate(438.00,1221.90) scale(0.915,1)" font-size="41.8" text-anchor="start" stroke="#1a1a1a" stroke-width="0.7" xml:space="preserve" >−4</text>
<text transform="translate(491.70,1221.90) scale(0.915,1)" font-size="41.8" text-anchor="start" stroke="#1a1a1a" stroke-width="0.7" xml:space="preserve" >−2</text>
<text transform="translate(557.20,1221.90) scale(0.915,1)" font-size="41.8" text-anchor="start" stroke="#1a1a1a" stroke-width="0.7" xml:space="preserve" >0</text>
<text transform="translate(609.40,1221.90) scale(0.915,1)" font-size="41.8" text-anchor="start" stroke="#1a1a1a" stroke-width="0.7" xml:space="preserve" >2</text>
<text transform="translate(665.80,1221.90) scale(0.915,1)" font-size="41.8" text-anchor="start" stroke="#1a1a1a" stroke-width="0.7" xml:space="preserve" >4</text>
<text transform="translate(713.00,1221.90) scale(0.915,1)" font-size="41.8" text-anchor="start" stroke="#1a1a1a" stroke-width="0.7" xml:space="preserve" >6</text>
<text transform="translate(772.30,1221.90) scale(0.915,1)" font-size="41.8" text-anchor="start" stroke="#1a1a1a" stroke-width="0.7" xml:space="preserve" >8</text>
<text transform="translate(819.00,1221.90) scale(0.915,1)" font-size="41.8" text-anchor="start" stroke="#1a1a1a" stroke-width="0.7" xml:space="preserve" >10</text>
<text transform="translate(868.30,1221.90) scale(0.915,1)" font-size="41.8" text-anchor="start" stroke="#1a1a1a" stroke-width="0.7" xml:space="preserve" >12</text>
</g>
<g>
<g transform="translate(0,1108.2)" fill="none" stroke-linecap="butt">
<path d="M1458.8,247.6L1507.8,460.4 M1463.7,246.3L1509.0,460.1 M1468.7,245.1L1510.3,459.8 M1473.6,244.0L1511.5,459.6 M1481.3,242.2L1512.7,459.3 M1488.5,240.7L1513.9,459.1 M1494.0,239.5L1515.2,458.9 M1500.0,238.3L1516.4,458.7 M1509.9,236.4L1520.0,458.2 M1515.9,235.3L1522.6,457.9 M1524.7,233.9L1524.2,457.7 M1531.3,232.9L1525.8,457.5 M1537.4,232.1L1527.4,457.4 M1544.0,231.2L1529.0,457.2 M1549.5,230.6L1530.6,457.1 M1554.9,230.0L1532.2,456.9 M1561.0,229.4L1533.8,456.8 M1568.1,228.8L1535.4,456.6 M1573.1,228.4L1537.0,456.5 M1578.0,228.0L1538.5,456.4 M1583.5,227.7L1540.0,456.3 M1591.8,227.1L1541.6,456.2 M1600.0,226.6L1543.9,456.0 M1604.9,226.3L1544.5,456.0 M1609.9,225.9L1545.1,455.9 M1614.8,225.6L1545.7,455.9 M1620.3,225.2L1546.2,455.9 M1625.8,224.8L1546.8,455.8 M1631.3,224.4L1547.4,455.8 M1636.3,224.1L1548.0,455.7 M1665.0,222.3L1560.1,455.1 M1688.2,221.6L1565.2,454.8 M1694.0,221.5L1568.2,454.7 M1697.2,221.4L1571.6,454.6 M1700.3,221.2L1575.0,454.4 M1322.8,404.8L1472.1,476.9 M1326.1,402.6L1468.6,479.3 M1329.4,400.3L1465.1,482.3 M1332.7,397.6L1461.6,485.6 M1336.0,395.0L1458.1,489.0 M1339.3,392.0L1454.6,492.5 M1342.6,388.8L1451.1,496.0 M1347.5,383.5L1447.6,499.7 M1352.5,377.6L1444.1,503.5 M1357.4,370.5L1440.6,507.8 M1362.4,362.8L1437.1,512.6 M1369.8,346.3L1433.6,519.7" stroke="#e5382f" stroke-width="2.3"/>
<path d="M1226.0,124.2L1322.8,404.5 M1279.6,124.2L1335.2,395.5 M1333.1,124.2L1343.4,388.0 M1386.7,124.2L1362.4,362.5 M1440.2,124.2L1469.3,243.2 M1493.8,124.2L1494.3,238.2 M1547.3,124.2L1524.0,233.2 M1600.9,124.2L1550.5,229.7 M1654.4,124.2L1574.5,227.5 M1708.0,124.2L1602.3,225.8 M1761.5,124.2L1622.9,224.3 M1815.1,124.2L1665.8,221.6 M1868.6,124.2L1700.6,220.5" stroke="#1a1a1a" stroke-width="2.5"/>
<path d="M1207.3,269.2C1207.7,274.1 1208.1,288.0 1209.5,298.5C1210.9,309.0 1213.2,322.9 1215.7,332.0C1218.2,341.1 1221.3,346.5 1224.7,353.4C1228.1,360.3 1232.2,367.1 1236.3,373.2C1240.4,379.2 1245.0,384.8 1249.4,389.7C1253.8,394.6 1258.2,399.3 1262.6,402.9C1267.0,406.5 1271.4,409.3 1275.8,411.1C1280.2,412.9 1284.6,413.6 1289.0,413.9C1293.4,414.2 1297.8,413.8 1302.2,412.8C1306.6,411.8 1312.0,409.2 1315.4,407.8C1318.8,406.4 1319.5,406.6 1322.8,404.5C1326.1,402.4 1331.8,398.2 1335.2,395.5C1338.6,392.8 1340.4,391.2 1343.4,388.0C1346.4,384.8 1350.1,380.8 1353.3,376.5C1356.5,372.2 1359.7,367.6 1362.4,362.5C1365.2,357.4 1367.3,353.1 1369.8,346.0C1372.3,338.9 1374.5,328.8 1377.6,320.0C1380.7,311.2 1384.6,300.9 1388.6,293.4C1392.6,285.8 1397.0,280.0 1401.8,274.7C1406.5,269.4 1411.6,265.0 1417.1,261.5C1422.6,258.0 1428.1,256.2 1434.7,253.8C1441.3,251.4 1447.5,249.7 1456.7,247.3C1465.9,244.9 1478.7,241.9 1489.7,239.6C1500.7,237.3 1512.5,235.1 1522.6,233.4C1532.7,231.8 1541.8,230.7 1550.4,229.7C1559.1,228.7 1565.9,228.2 1574.5,227.5C1583.1,226.8 1593.9,226.2 1602.0,225.7C1610.1,225.1 1612.3,224.9 1622.9,224.2C1633.5,223.5 1652.8,222.1 1665.8,221.5C1678.8,220.9 1687.7,221.0 1700.9,220.4C1714.1,219.8 1730.5,219.2 1745.0,217.8C1759.5,216.4 1771.0,214.4 1787.7,212.1C1804.4,209.8 1825.9,206.7 1845.0,203.8C1864.1,200.9 1892.8,196.4 1902.3,194.9 L1924.5,169.6" stroke="#3b4589" stroke-width="3.0" stroke-linejoin="round"/>
<path d="M1426.5,644.6C1426.7,636.0 1427.1,608.6 1427.4,592.8C1427.8,577.0 1428.0,559.8 1428.6,549.6C1429.2,539.5 1429.9,537.1 1430.8,531.9C1431.7,526.7 1432.7,521.9 1434.1,518.3C1435.5,514.6 1436.8,513.0 1439.0,510.0C1441.2,507.0 1443.1,504.5 1447.2,500.1C1451.3,495.7 1459.6,487.5 1463.7,483.6C1467.8,479.8 1468.7,479.2 1472.0,477.0C1475.3,474.8 1478.8,472.8 1483.5,470.5C1488.2,468.2 1494.7,464.9 1500.0,463.0C1505.3,461.1 1507.9,460.1 1515.2,458.9C1522.5,457.7 1532.0,456.8 1544.0,456.0C1556.0,455.2 1568.0,454.6 1587.2,454.0C1606.4,453.4 1637.5,452.5 1659.1,452.2C1680.7,451.9 1703.2,451.9 1716.7,452.2C1730.2,452.5 1732.6,452.6 1739.8,454.0C1747.0,455.4 1753.2,456.9 1759.9,460.3C1766.6,463.8 1774.1,468.9 1780.1,474.7C1786.1,480.5 1791.8,488.2 1795.9,494.9C1800.0,501.6 1802.5,507.3 1804.6,515.0C1806.7,522.7 1807.3,527.9 1808.3,540.9C1809.2,553.9 1809.6,575.0 1810.3,592.8C1811.0,610.6 1812.0,638.4 1812.3,647.5" stroke="#1a1a1a" stroke-width="3.1" stroke-linejoin="round"/>
</g>
<rect x="1172.50" y="1128.70" width="749.10" height="691.30" fill="none" stroke="#1a1a1a" stroke-width="5"/>
<line x1="1172.50" y1="1232.39" x2="1921.60" y2="1232.39" stroke="#1a1a1a" stroke-width="3.8"/>
<line x1="1172.50" y1="1266.96" x2="1192.00" y2="1266.96" stroke="#1a1a1a" stroke-width="5"/>
<line x1="1172.50" y1="1405.22" x2="1192.00" y2="1405.22" stroke="#1a1a1a" stroke-width="5"/>
<line x1="1172.50" y1="1543.48" x2="1192.00" y2="1543.48" stroke="#1a1a1a" stroke-width="5"/>
<line x1="1172.50" y1="1681.74" x2="1192.00" y2="1681.74" stroke="#1a1a1a" stroke-width="5"/>
<text transform="translate(1160.10,1153.40) scale(0.985,1)" font-size="67.0" text-anchor="end" stroke="#1a1a1a" stroke-width="0.7" >60</text>
<text transform="translate(1160.10,1287.12) scale(0.985,1)" font-size="67.0" text-anchor="end" stroke="#1a1a1a" stroke-width="0.7" >40</text>
<text transform="translate(1160.10,1425.44) scale(0.985,1)" font-size="67.0" text-anchor="end" stroke="#1a1a1a" stroke-width="0.7" >20</text>
<text transform="translate(1160.10,1563.76) scale(0.985,1)" font-size="67.0" text-anchor="end" stroke="#1a1a1a" stroke-width="0.7" >0</text>
<text transform="translate(1160.10,1702.08) scale(0.985,1)" font-size="67.0" text-anchor="end" stroke="#1a1a1a" stroke-width="0.7" >−20</text>
<text transform="translate(1160.10,1837.10) scale(0.985,1)" font-size="67.0" text-anchor="end" stroke="#1a1a1a" stroke-width="0.7" >−40</text>
<line x1="1333.15" y1="1820.00" x2="1333.15" y2="1800.50" stroke="#1a1a1a" stroke-width="5"/>
<text transform="translate(1331.75,1884.20) scale(0.977,1)" font-size="67.0" text-anchor="middle" stroke="#1a1a1a" stroke-width="0.7" >700</text>
<line x1="1600.90" y1="1820.00" x2="1600.90" y2="1800.50" stroke="#1a1a1a" stroke-width="5"/>
<text transform="translate(1599.50,1884.20) scale(0.977,1)" font-size="67.0" text-anchor="middle" stroke="#1a1a1a" stroke-width="0.7" >750</text>
<line x1="1868.65" y1="1820.00" x2="1868.65" y2="1800.50" stroke="#1a1a1a" stroke-width="5"/>
<text transform="translate(1867.25,1884.20) scale(0.977,1)" font-size="67.0" text-anchor="middle" stroke="#1a1a1a" stroke-width="0.7" >800</text>
<text transform="translate(1302.40,1963.50) scale(1.0,1)" font-size="66" text-anchor="start" stroke="#1a1a1a" stroke-width="0.5" >廓形横坐标</text>
<text transform="translate(1789.60,1961.70) scale(0.958,1)" font-size="70" text-anchor="end" stroke="#1a1a1a" stroke-width="0.7" xml:space="preserve" > / mm</text>
<text transform="translate(1038.20,1716.70) rotate(-90) scale(1.0,1)" font-size="66" text-anchor="start" stroke="#1a1a1a" stroke-width="0.5" >廓形纵坐标</text>
<text transform="translate(1036.80,1230.10) rotate(-90) scale(0.958,1)" font-size="70" text-anchor="end" stroke="#1a1a1a" stroke-width="0.7" xml:space="preserve" > / mm</text>
<text transform="translate(1392.90,1180.50) scale(1.0,1)" font-size="41.5" text-anchor="start" stroke="#1a1a1a" stroke-width="0.5" >轮对横移量</text>
<text transform="translate(1699.40,1179.20) scale(0.94,1)" font-size="43.5" text-anchor="end" stroke="#1a1a1a" stroke-width="0.7" xml:space="preserve" > / mm</text>
<text transform="translate(1185.90,1221.90) scale(0.915,1)" font-size="41.8" text-anchor="start" stroke="#1a1a1a" stroke-width="0.7" xml:space="preserve" >−12</text>
<text transform="translate(1246.90,1221.90) scale(0.915,1)" font-size="41.8" text-anchor="start" stroke="#1a1a1a" stroke-width="0.7" xml:space="preserve" >−10</text>
<text transform="translate(1313.30,1221.90) scale(0.915,1)" font-size="41.8" text-anchor="start" stroke="#1a1a1a" stroke-width="0.7" xml:space="preserve" >−8</text>
<text transform="translate(1363.00,1221.90) scale(0.915,1)" font-size="41.8" text-anchor="start" stroke="#1a1a1a" stroke-width="0.7" xml:space="preserve" >−6</text>
<text transform="translate(1416.60,1221.90) scale(0.915,1)" font-size="41.8" text-anchor="start" stroke="#1a1a1a" stroke-width="0.7" xml:space="preserve" >−4</text>
<text transform="translate(1470.30,1221.90) scale(0.915,1)" font-size="41.8" text-anchor="start" stroke="#1a1a1a" stroke-width="0.7" xml:space="preserve" >−2</text>
<text transform="translate(1535.80,1221.90) scale(0.915,1)" font-size="41.8" text-anchor="start" stroke="#1a1a1a" stroke-width="0.7" xml:space="preserve" >0</text>
<text transform="translate(1588.00,1221.90) scale(0.915,1)" font-size="41.8" text-anchor="start" stroke="#1a1a1a" stroke-width="0.7" xml:space="preserve" >2</text>
<text transform="translate(1644.40,1221.90) scale(0.915,1)" font-size="41.8" text-anchor="start" stroke="#1a1a1a" stroke-width="0.7" xml:space="preserve" >4</text>
<text transform="translate(1691.60,1221.90) scale(0.915,1)" font-size="41.8" text-anchor="start" stroke="#1a1a1a" stroke-width="0.7" xml:space="preserve" >6</text>
<text transform="translate(1750.90,1221.90) scale(0.915,1)" font-size="41.8" text-anchor="start" stroke="#1a1a1a" stroke-width="0.7" xml:space="preserve" >8</text>
<text transform="translate(1797.60,1221.90) scale(0.915,1)" font-size="41.8" text-anchor="start" stroke="#1a1a1a" stroke-width="0.7" xml:space="preserve" >10</text>
<text transform="translate(1846.90,1221.90) scale(0.915,1)" font-size="41.8" text-anchor="start" stroke="#1a1a1a" stroke-width="0.7" xml:space="preserve" >12</text>
</g>
<text transform="translate(638.80,958.60) scale(0.954,1)" font-size="70" text-anchor="start" stroke="#1a1a1a" stroke-width="0.7" xml:space="preserve" >(a)</text>
<text transform="translate(1278.40,961.00) scale(1.0045,1)" font-size="66" text-anchor="end" stroke="#1a1a1a" stroke-width="0.5" >实际型面轮轨接触</text>
<text transform="translate(472.60,1035.90) scale(0.954,1)" font-size="70" text-anchor="start" stroke="#1a1a1a" stroke-width="0.7" xml:space="preserve" >(a)</text>
<text transform="translate(578.90,1035.90) scale(0.954,1)" font-size="70" text-anchor="start" stroke="#1a1a1a" stroke-width="0.7" xml:space="preserve" textLength="908.9" lengthAdjust="spacingAndGlyphs">Actual profile wheel-rail contact</text>
<text transform="translate(539.60,2066.80) scale(0.954,1)" font-size="70" text-anchor="start" stroke="#1a1a1a" stroke-width="0.7" xml:space="preserve" >(b)</text>
<text transform="translate(1380.00,2069.20) scale(1.0,1)" font-size="66" text-anchor="end" stroke="#1a1a1a" stroke-width="0.5" >参数化描述型面轮轨接触</text>
<text transform="translate(191.70,2144.10) scale(0.954,1)" font-size="70" text-anchor="start" stroke="#1a1a1a" stroke-width="0.7" xml:space="preserve" >(b)</text>
<text transform="translate(302.70,2144.10) scale(0.954,1)" font-size="70" text-anchor="start" stroke="#1a1a1a" stroke-width="0.7" xml:space="preserve" textLength="1495.1" lengthAdjust="spacingAndGlyphs">Parametrized description of profile wheel-rail contact</text>
</svg></body></html>
